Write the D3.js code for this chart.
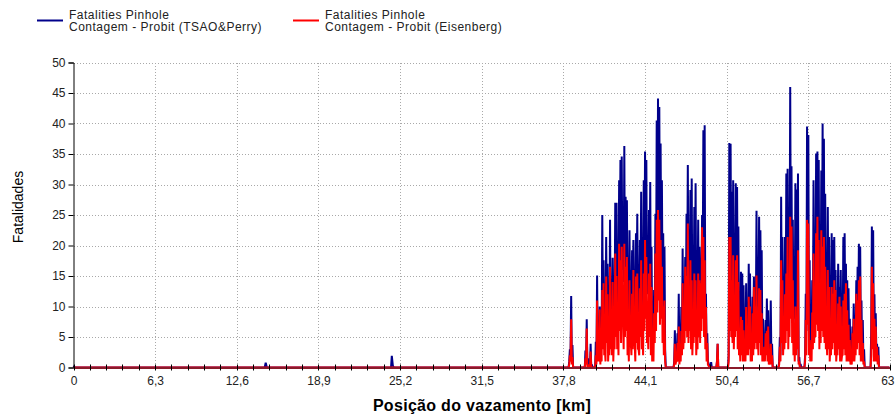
<!DOCTYPE html>
<html>
<head>
<meta charset="utf-8">
<script src="https://cdn.jsdelivr.net/npm/d3@7/dist/d3.min.js"></script>
<style>
  html, body { margin: 0; padding: 0; background: #fff; }
  svg { display: block; font-family: "Liberation Sans", Arial, sans-serif; }
</style>
</head>
<body>
<svg id="chart" width="895" height="415"></svg>
<script>
// Axis ticks
const xTickValues = [0, 6.3, 12.6, 18.9, 25.2, 31.5, 37.8, 44.1, 50.4, 56.7, 63];
const xTickLabels = ["0", "6,3", "12,6", "18,9", "25,2", "31,5", "37,8", "44,1", "50,4", "56,7", "63"];
const yTickValues = [0, 5, 10, 15, 20, 25, 30, 35, 40, 45, 50];
const minorStepKm = 1.26;

// Legend entries
const seriesNames = [
  ["Fatalities Pinhole", "Contagem - Probit (TSAO&Perry)"],
  ["Fatalities Pinhole", "Contagem - Probit (Eisenberg)"]
];

// Isolated leak positions before the dense stretch (km) and their fatalities
const earlyKm    = [0, 0.1, 14.75, 14.83, 14.92, 24.5, 24.56, 24.64, 24.72, 37.7];
const earlyTsao  = [0.3, 0, 0, 0.8, 0, 0, 1.9, 0.3, 0, 0];
const earlyEisen = [0, 0, 0, 0, 0, 0, 0, 0, 0, 0];

// Dense stretch: a leak position every 0.1 km from 37.8 km, plus an
// intermediate position 0.05 km after each one (the "Mid" arrays)
const denseStartKm = 37.8;
const denseStepKm = 0.1;

const tsaoPerry = [
  0,0,0,0,0,3,11.7,3.7,0,0,
  0,0,0,0,0,0,0,2.8,7.9,1.5,
  0,3.9,0.5,0,0,4.2,15.1,6,10,8,
  25,17.6,9,21.4,17,10,24.2,12,18,11,
  27,27,14,30.7,34,34.6,20,36.3,28,27.4,
  14,22.5,16,19.2,20.9,12,22,25.2,13,20.9,
  28.8,16,30.7,35.4,34,18,25.8,30.4,19.8,8,
  12.7,25.2,40.5,44.1,42.7,36.7,30.7,22,19.8,0,
  0,0,0,0,0,0,6.1,3,5.6,12.1,
  5,9.9,19.5,10,18.1,25.2,33.2,18,29.1,31,
  17,26.3,30.2,16,24.2,19.8,17.6,25,38.9,39.7,
  12.1,5.6,0.7,0,0.9,0,0,0,0,3.9,
  0,0,0,0,0,0,0,0,36.8,36.7,
  28.8,30.7,20,30.2,29.6,23.1,10,15.7,15.4,13.5,
  7,13.8,8.9,17,15.4,6,11.6,14.9,11.6,25.7,
  12,24.7,22.5,19.2,8,5,7.8,11.3,9.4,4,
  11,3.9,0,0,0,0,0,5,28,21.4,
  12,21.4,31.8,32.6,20,46,33,24.2,15,30.2,
  29.2,31.8,1.7,0.6,0,0,0,12.1,39.5,38.1,
  17.6,8,14.3,30.7,22,35.1,35.4,34,20,32.3,
  40,37.5,28.5,15,26.3,21.4,12,22,20.9,21.4,
  16,9,17,13.2,16,8,21.4,22,17,14.3,
  13,8,4,6.7,10.5,7,14.3,16.5,20.3,19.8,
  11,7.8,3,0,0,0,0,0,23.1,22.5,
  12,8.9,3.9,3.4,0,0,0,0,0,0,
  0,0
];
const tsaoPerryMid = [
  0,0,0,0,1,2,1,0,0,0,
  0,0,0,0,0,0,0,1,0.5,0,
  0,0,0,0,0,1,2,3,1,4,
  8,5,6,9,4,7,6,8,5,9,
  12,10,11,15,13,16,14,12,17,10,
  9,8,10,12,7,11,13,9,10,12,
  10,11,14,16,12,13,15,9,5,6,
  9,14,18,20,17,16,12,9,3,0,
  0,0,0,0,0,1,1,2,3,2,
  3,4,7,9,10,14,12,13,11,9,
  10,12,8,11,9,12,14,16,13,8,
  3,1,0,0,0,0,0,0,1,0,
  0,0,0,0,0,0,0,2,14,12,
  15,10,13,14,11,6,4,7,5,3,
  5,4,6,8,3,4,7,6,9,10,
  8,11,9,4,2,3,4,3,2,2,
  1,0,0,0,0,0,1,2,10,6,
  8,9,13,10,14,18,12,7,8,6,
  7,1,0,0,0,0,2,6,18,5,
  3,4,7,9,11,15,13,9,12,14,
  12,10,8,9,7,5,8,6,10,7,
  4,6,8,5,3,6,9,7,5,3,
  3,1,2,4,3,5,6,9,8,4,
  2,1,0,0,0,0,0,6,8,5,
  3,2,1,0,0,0,0,0,0,0,
  0,0
];

const eisenberg = [
  0,0,0,0,0,2,7.9,1.7,0,0,
  0,0,0,0,0,0,0,1.5,6.4,0.5,
  0,2.6,0,0,0,2,11,3,9.5,4,
  12.7,13.8,3,14.9,12,4,16.5,6,14,5,
  18.7,15,7,20.3,17.6,19.8,8,20.3,16.5,18.1,
  5,14.3,4,12.1,16,4,14.9,15.4,3,13,
  17.6,6,15.4,20.9,18.1,8,15.4,17,13.2,2,
  8.9,18.7,24.2,25.8,24.2,20.9,16.5,10,11,0,
  0,0,0,0,0,0,3.9,1,4,6.7,
  2,6,13.8,6,16.5,15,23.6,9,17.6,14.3,
  6,15.4,14.3,5,15.4,14.3,13.8,23,21.4,17.6,
  9.9,4,0.3,0,0,0,0,0,0,3.9,
  0,0,0,0,0,0,0,0,21.4,21.4,
  14.3,18.4,9,17.6,18.4,14,4,8.3,7.8,6.1,
  2,9.9,5,11.6,10,2,8.9,13.2,10,15.1,
  5,13,12.7,8.9,3,3.4,5.6,6,6.7,1,
  3.9,2,0,0,0,0,0,3.4,17.6,14.3,
  5,12,15.4,21.4,10,24.7,23.1,14.3,6,10,
  8,19.2,1,0,0,0,0,7.8,24.2,23.6,
  4.5,3,9,18.7,10,22,24.7,20.9,10,22.5,
  19.8,21.4,16.5,6,16,13.2,4,13.2,12.1,14.3,
  12.7,3,10.5,11.6,10,2,11,12.1,13.8,9.4,
  7,4.5,1,5.6,8,3,12.1,11,14.3,14.9,
  7.8,4,1,0,0,0,0,0,16.5,13.8,
  8,6.7,3.4,2,0,0,0,0,0,0,
  0,0
];
const eisenbergMid = [
  0,0,0,0,0.5,1,0.5,0,0,0,
  0,0,0,0,0,0,0,0.5,0,0,
  0,0,0,0,0,0.5,1,1,0.5,1,
  3,2,1,4,1,2,3,2,1,3,
  5,3,2,6,4,7,3,5,6,2,
  1,4,2,3,5,1,4,3,2,5,
  3,2,6,8,4,3,5,2,1,1,
  4,6,9,11,7,8,4,2,1,0,
  0,0,0,0,0,0.5,0.5,1,1,0.5,
  1,2,3,4,6,5,4,6,3,2,
  4,5,2,3,5,4,6,8,5,3,
  1,0.5,0,0,0,0,0,0,1,0,
  0,0,0,0,0,0,0,1,6,5,
  4,3,5,6,3,2,1,2,1,1,
  1,2,2,3,1,1,2,3,4,3,
  2,4,2,1,1,1,2,1,0.5,0.5,
  0.5,0,0,0,0,0,0.5,1,4,2,
  3,4,6,3,5,8,4,2,1,2,
  3,0.5,0,0,0,0,1,2,7,2,
  1,1,3,4,5,7,6,3,4,6,
  5,4,3,2,3,1,2,3,4,2,
  1,2,3,1,1,2,3,2,1,1,
  1,0.5,0.5,1,1,2,3,4,2,1,
  1,0.5,0,0,0,0,0,2,3,1,
  1,1,0.5,0,0,0,0,0,0,0,
  0,0
];

const seriesColors = ["#00008b", "#ff0000"];

// Build [km, value] pairs for each series
function buildSeries(earlyVals, denseVals, midVals) {
  const pts = earlyKm.map((k, i) => [k, earlyVals[i]]);
  denseVals.forEach((v, i) => {
    const km = denseStartKm + i * denseStepKm;
    pts.push([km, v]);
    pts.push([km + denseStepKm / 2, midVals[i]]);
  });
  return pts;
}
const series = [
  buildSeries(earlyTsao, tsaoPerry, tsaoPerryMid),
  buildSeries(earlyEisen, eisenberg, eisenbergMid)
];

const svg = d3.select("#chart");
const x = d3.scaleLinear().domain([0, 63]).range([73.5, 890]);
const y = d3.scaleLinear().domain([0, 50]).range([367.5, 62.5]);

// Dotted grid
const grid = svg.append("g").attr("stroke", "#a9a9a9").attr("stroke-width", 1)
  .attr("stroke-dasharray", "1,2").attr("shape-rendering", "crispEdges");
grid.selectAll("line.h").data(yTickValues.filter(d => d > 0)).join("line")
  .attr("class", "h")
  .attr("x1", x(0)).attr("x2", x(63))
  .attr("y1", d => Math.round(y(d)) + 0.5).attr("y2", d => Math.round(y(d)) + 0.5);
grid.selectAll("line.v").data(xTickValues.filter(d => d > 0)).join("line")
  .attr("class", "v")
  .attr("y1", y(50)).attr("y2", y(0))
  .attr("x1", d => Math.round(x(d)) + 0.5).attr("x2", d => Math.round(x(d)) + 0.5);

// Series lines
const line = d3.line().x(d => x(d[0])).y(d => y(d[1]));
svg.append("g").selectAll("path").data(series).join("path")
  .attr("d", line)
  .attr("fill", "none")
  .attr("stroke", (d, i) => seriesColors[i])
  .attr("stroke-width", 2)
  .attr("stroke-linejoin", "bevel");

// Y axis
const yAxis = svg.append("g").attr("transform", `translate(${x(0)},0)`)
  .call(d3.axisLeft(y).tickValues(yTickValues).tickSize(5).tickPadding(3));
yAxis.select(".domain").attr("stroke", "#000");
yAxis.selectAll(".tick line").attr("stroke", "#000");
yAxis.selectAll("text").attr("font-size", 12).attr("fill", "#222")
  .attr("font-family", "'Liberation Sans', Arial, sans-serif");

// X axis baseline, labels and minor ticks
const xAxis = svg.append("g").attr("transform", `translate(0,${y(0)})`)
  .call(d3.axisBottom(x).tickValues(xTickValues).tickSize(0).tickPadding(9)
    .tickFormat((d, i) => xTickLabels[i]));
xAxis.select(".domain").attr("stroke", "#8b1a2a").attr("stroke-width", 2.2);
xAxis.selectAll("text").attr("font-size", 12).attr("fill", "#222")
  .attr("font-family", "'Liberation Sans', Arial, sans-serif");
// keep the last label inside the drawing
xAxis.selectAll(".tick").filter(d => d === 63).select("text")
  .attr("text-anchor", "end").attr("x", 4);
svg.append("g").selectAll("line").data(d3.range(0, 63.001, minorStepKm)).join("line")
  .attr("x1", d => Math.round(x(d)) + 0.5).attr("x2", d => Math.round(x(d)) + 0.5)
  .attr("y1", y(0) - 3).attr("y2", y(0) + 3)
  .attr("stroke", "#000").attr("stroke-width", 1);

// Axis titles
svg.append("text")
  .attr("transform", `translate(23,${(y(0) + y(50)) / 2 - 8}) rotate(-90)`)
  .attr("text-anchor", "middle").attr("font-size", 14).attr("fill", "#000")
  .text("Fatalidades");
svg.append("text")
  .attr("x", 482).attr("y", 411)
  .attr("text-anchor", "middle").attr("font-size", 16).attr("font-weight", "bold")
  .attr("letter-spacing", 0.3).attr("fill", "#000")
  .text("Posição do vazamento [km]");

// Legend
const legendX = [37, 293];
const legend = svg.append("g").selectAll("g").data(seriesNames).join("g")
  .attr("transform", (d, i) => `translate(${legendX[i]},0)`);
legend.append("line")
  .attr("x1", 0).attr("x2", 26).attr("y1", 20.5).attr("y2", 20.5)
  .attr("stroke", (d, i) => seriesColors[i]).attr("stroke-width", 2);
legend.append("text")
  .attr("x", 32).attr("y", 18.7).attr("font-size", 12).attr("letter-spacing", 0.5).attr("fill", "#222")
  .text(d => d[0]);
legend.append("text")
  .attr("x", 32).attr("y", 31).attr("font-size", 12).attr("letter-spacing", 0.5).attr("fill", "#222")
  .text(d => d[1]);
</script>
</body>
</html>
